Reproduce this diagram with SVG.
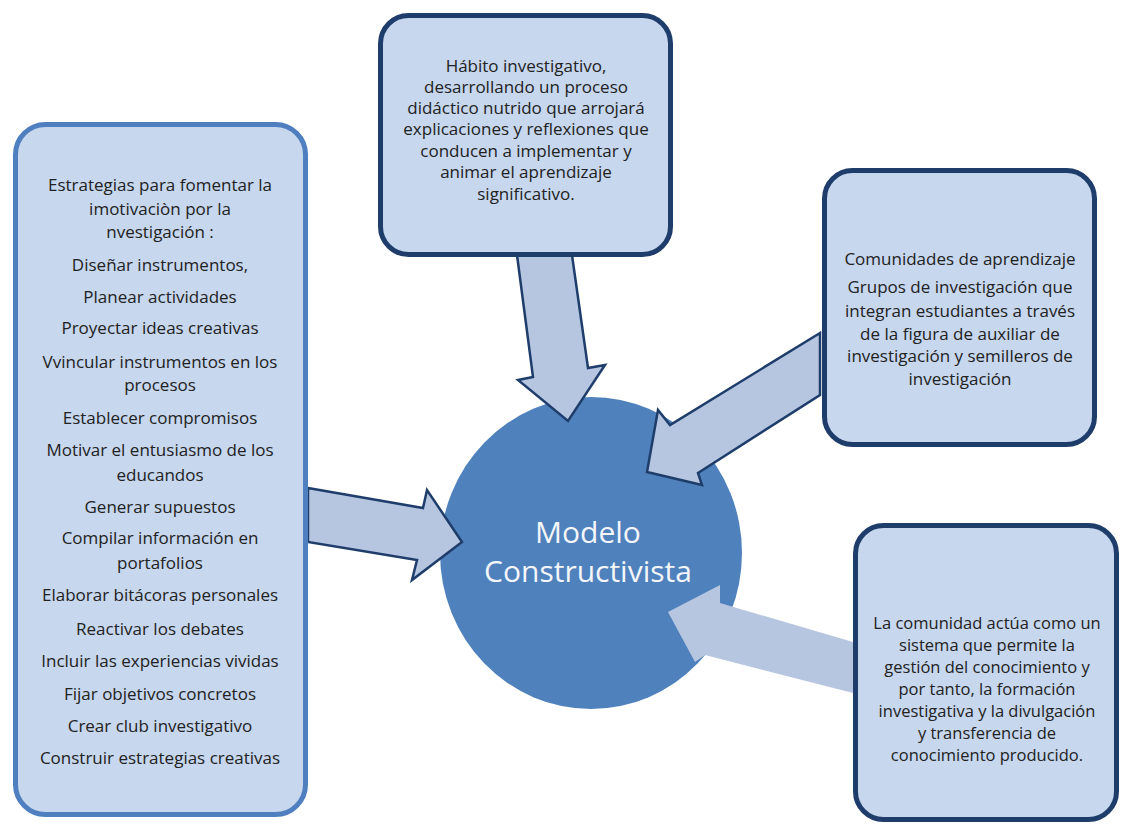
<svg xmlns="http://www.w3.org/2000/svg" width="1122" height="826" viewBox="0 0 1122 826">
<style>
.box{fill:#c6d7ee;stroke:#1f3d6b;stroke-width:5}
.boxl{fill:#c6d7ee;stroke:#4f7fbf;stroke-width:5}
.t{font-family:"Open Sans","Liberation Sans",sans-serif;font-size:17px;fill:#222;text-anchor:middle}
.s{font-size:16.5px}
.c{font-family:"Open Sans","Liberation Sans",sans-serif;font-size:30px;fill:#f4f6fa;text-anchor:middle}
.arr{fill:#b7c6e0;stroke:#1f3d6b;stroke-width:2.5;stroke-linejoin:miter}
.arr2{fill:#b7c6e0;stroke:none}
</style>
<rect width="1122" height="826" fill="#ffffff"/>
<g id="center">
<ellipse cx="591" cy="553" rx="151" ry="156" fill="#4f81bd"/>
<text class="c" x="588" y="543">Modelo</text>
<text class="c" x="588" y="582">Constructivista</text>
</g>
<g id="connectors">
<polygon class="arr" points="517,255 533,377 518,380 568,421 605,365 588,368 572,255"/>
<polygon class="arr" points="820,333 670,425 658,410 647,472 702,485 698,473 820,395"/>
<polygon class="arr" points="308,488 423,508 427,490 462,542 412,580 417,560 308,542"/>
<polygon class="arr2" points="853,642 720,603 720,585 668,612 695,662 705,655 853,693"/>
</g>
<g id="left-box">
<rect class="boxl" x="15.5" y="124.5" width="290" height="690" rx="30"/>
<text class="t" x="160" y="191">Estrategias para fomentar la</text>
<text class="t" x="160" y="215">imotivaciòn por la</text>
<text class="t" x="160" y="238">nvestigación :</text>
<text class="t" x="160" y="271">Diseñar instrumentos,</text>
<text class="t" x="160" y="303">Planear actividades</text>
<text class="t" x="160" y="334">Proyectar ideas creativas</text>
<text class="t" x="160" y="368">Vvincular instrumentos en los</text>
<text class="t" x="160" y="391">procesos</text>
<text class="t" x="160" y="424">Establecer compromisos</text>
<text class="t" x="160" y="456">Motivar el entusiasmo de los</text>
<text class="t" x="160" y="481">educandos</text>
<text class="t" x="160" y="513">Generar supuestos</text>
<text class="t" x="160" y="544">Compilar información en</text>
<text class="t" x="160" y="569">portafolios</text>
<text class="t" x="160" y="601">Elaborar bitácoras personales</text>
<text class="t" x="160" y="635">Reactivar los debates</text>
<text class="t" x="160" y="667">Incluir las experiencias vividas</text>
<text class="t" x="160" y="700">Fijar objetivos concretos</text>
<text class="t" x="160" y="732">Crear club investigativo</text>
<text class="t" x="160" y="764">Construir estrategias creativas</text>
</g>
<g id="top-box">
<rect class="box" x="380.5" y="15.5" width="290" height="239" rx="28"/>
<text class="t" x="526" y="72">Hábito investigativo,</text>
<text class="t" x="526" y="93">desarrollando un proceso</text>
<text class="t" x="526" y="114">didáctico nutrido que arrojará</text>
<text class="t" x="526" y="135">explicaciones y reflexiones que</text>
<text class="t" x="526" y="157">conducen a implementar y</text>
<text class="t" x="526" y="178">animar el aprendizaje</text>
<text class="t" x="526" y="200">significativo.</text>
</g>
<g id="right-box-1">
<rect class="box" x="824.5" y="170.5" width="270" height="274" rx="28"/>
<text class="t" x="960" y="265">Comunidades de aprendizaje</text>
<text class="t" x="960" y="293">Grupos de investigación que</text>
<text class="t" x="960" y="317">integran estudiantes a través</text>
<text class="t" x="960" y="340">de la figura de auxiliar de</text>
<text class="t" x="960" y="362">investigación y semilleros de</text>
<text class="t" x="960" y="385">investigación</text>
</g>
<g id="right-box-2">
<rect class="box" x="855.5" y="525.5" width="261" height="294" rx="28"/>
<text class="t s" x="987" y="629">La comunidad actúa como un</text>
<text class="t s" x="987" y="651">sistema que permite la</text>
<text class="t s" x="987" y="673">gestión del conocimiento y</text>
<text class="t s" x="987" y="695">por tanto, la formación</text>
<text class="t s" x="987" y="717">investigativa y la divulgación</text>
<text class="t s" x="987" y="739">y transferencia de</text>
<text class="t s" x="987" y="761">conocimiento producido.</text>
</g>
</svg>
